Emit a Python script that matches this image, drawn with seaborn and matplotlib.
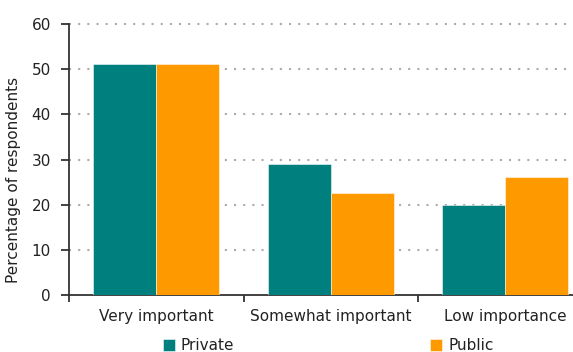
import matplotlib
matplotlib.use("Agg")
import matplotlib.pyplot as plt
import seaborn as sns
import pandas as pd
from matplotlib.ticker import FixedLocator

categories = ["Very important", "Somewhat important", "Low importance"]
private = [51.2, 29.0, 19.9]
public = [51.2, 22.6, 26.2]
series = ["Private", "Public"]
colors = ["#007F7F", "#FF9900"]
yticks = [0, 10, 20, 30, 40, 50, 60]

df = pd.DataFrame({
    "Importance": categories * 2,
    "Sector": [series[0]] * 3 + [series[1]] * 3,
    "Value": private + public,
})

sns.set_theme(style="white")
plt.rcParams["font.family"] = ["DejaVu Sans"]

W, H = 573, 352
fig = plt.figure(figsize=(W / 100, H / 100), dpi=100)
ax_w = 592.5 - 69
ax_h = 295 - 24
ax = fig.add_axes([69 / W, 57 / H, ax_w / W, ax_h / H])

sns.barplot(data=df, x="Importance", y="Value", hue="Sector",
            palette=colors, width=0.72, saturation=1, ax=ax,
            edgecolor=(1, 1, 1, 0.6), linewidth=0.6, zorder=3)

ax.set_xlim(-0.5, 2.5)
ax.set_ylim(0, 60)
ax.set_yticks(yticks)
ax.set_xlabel("")
ax.set_ylabel("Percentage of respondents", fontsize=11, color="#222222")
ax.yaxis.set_label_coords((21 - 69) / ax_w, (295 - 180) / ax_h)

# dotted horizontal guides behind the bars
for v in yticks[1:]:
    ax.axhline(v, color="#ababab", linewidth=1.5, linestyle=(0, (1, 3.4)),
               zorder=1, clip_on=False)

for side in ["top", "right"]:
    ax.spines[side].set_visible(False)
for side in ["left", "bottom"]:
    ax.spines[side].set_color("#333333")
    ax.spines[side].set_linewidth(1.3)

ax.tick_params(axis="y", which="major", direction="out", length=6, width=1.3,
               color="#333333", labelsize=11, labelcolor="#222222", pad=7,
               left=True)
ax.tick_params(axis="x", which="major", length=0, labelsize=11,
               labelcolor="#222222", pad=10)
ax.xaxis.set_minor_locator(FixedLocator([-0.5, 0.5, 1.5, 2.5]))
ax.tick_params(axis="x", which="minor", direction="out", length=5, width=1.3,
               color="#333333", bottom=True)

handles, labels = ax.get_legend_handles_labels()
ax.get_legend().remove()
fig.legend(handles, labels, loc="center left",
           bbox_to_anchor=(155 / W, 6 / H), ncol=2, frameon=False,
           fontsize=11, handlelength=0.8, handleheight=0.8,
           handletextpad=0.4, columnspacing=12.8, labelcolor="#222222",
           borderpad=0.0)

fig.savefig("out.png", dpi=100)
